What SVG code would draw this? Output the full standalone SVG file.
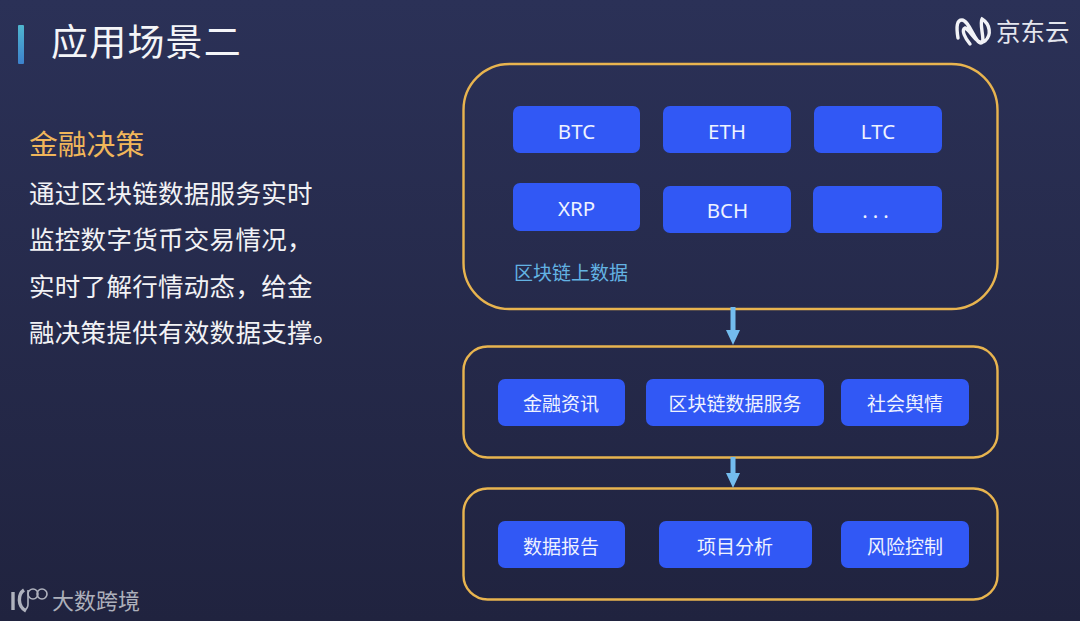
<svg xmlns="http://www.w3.org/2000/svg" width="1080" height="621" viewBox="0 0 1080 621">
<style>
text{font-family:"Noto Sans CJK SC","Liberation Sans",sans-serif}
.b{fill:#3158f5}
.t{fill:#eef2ff;font-size:20.5px;text-anchor:middle;font-family:"Noto Sans","Noto Sans CJK SC",sans-serif}
.c{fill:#eef2ff;font-size:19px;text-anchor:middle}
.p{fill:none;stroke:#e8b44f;stroke-width:2.4}
.d{fill:#f2f2f5;font-size:25.500px;letter-spacing:.3px}
.a{stroke:#73bcee;stroke-width:5;fill:none}
.h{fill:#73bcee}
</style>
<defs>
<linearGradient id="bg" x1="0" y1="0" x2="0" y2="1"><stop offset="0" stop-color="#2b3157"/><stop offset="1" stop-color="#20233f"/></linearGradient>
<linearGradient id="bar" x1="0" y1="0" x2="0" y2="1"><stop offset="0" stop-color="#4fb6cf"/><stop offset="1" stop-color="#3d82cc"/></linearGradient>
</defs>
<rect width="1080" height="621" fill="url(#bg)"/>
<rect x="18" y="25" width="6" height="39" rx="1" fill="url(#bar)"/>
<text x="51" y="56" font-size="37" fill="#f4f5f8" letter-spacing="1.200">应用场景二</text>
<g id="logo-jd">
<path d="M958 38 C956 26 957 20 962 20 C969 20 975 43 981 43 C986 43 979 24 982 19 C990 24 992 35 985 41 C977 47 970 29 965 28 C961 30 965 38 970 44" fill="none" stroke="#f1f2f6" stroke-width="3.4" stroke-linecap="round"/>
<text x="996" y="41" font-size="24.500" fill="#e4e6ee">京东云</text>
</g>
<g id="logo-100">
<path d="M13 592 V610" fill="none" stroke="#b0b3be" stroke-width="3.4"/>
<path d="M24 590 C18 594 17 606 26 611" fill="none" stroke="#b0b3be" stroke-width="3.4"/>
<path d="M28 590 V604 A6 6 0 0 1 24 610" fill="none" stroke="#b0b3be" stroke-width="1.6"/>
<circle cx="33" cy="594" r="5" fill="none" stroke="#b0b3be" stroke-width="1.6"/>
<circle cx="42" cy="594" r="5" fill="none" stroke="#b0b3be" stroke-width="1.6"/>
<text x="52" y="609" font-size="22" fill="#adb0bb">大数跨境</text>
</g>
<g id="text-block">
<text x="29" y="155" font-size="28.800" fill="#f0b65a">金融决策</text>
<text x="29" y="203" class="d">通过区块链数据服务实时</text>
<text x="29" y="249" class="d">监控数字货币交易情况，</text>
<text x="29" y="296" class="d">实时了解行情动态，给金</text>
<text x="29" y="342" class="d">融决策提供有效数据支撑。</text>
</g>
<g id="panel-chain"><rect class="p" x="463.500" y="64" width="534" height="245" rx="46"/><text x="514" y="280" font-size="19" fill="#63b3e3">区块链上数据</text></g>
<g id="panel-service"><rect class="p" x="463.500" y="346.500" width="534" height="111" rx="24"/></g>
<g id="panel-output"><rect class="p" x="463.500" y="488.500" width="534" height="111" rx="24"/></g>
<g id="connectors">
<path class="a" d="M733 307V332"/><path class="h" d="M726 330H740L733 345Z"/>
<path class="a" d="M733 457V475"/><path class="h" d="M726 473H740L733 488Z"/>
</g>
<g id="n-btc"><rect class="b" x="513" y="106" width="127" height="47" rx="7"/><text class="t" x="576.500" y="139">BTC</text></g>
<g id="n-eth"><rect class="b" x="663" y="106" width="128" height="47" rx="7"/><text class="t" x="727" y="139">ETH</text></g>
<g id="n-ltc"><rect class="b" x="814" y="106" width="128" height="47" rx="7"/><text class="t" x="878" y="139">LTC</text></g>
<g id="n-xrp"><rect class="b" x="513" y="183" width="127" height="48" rx="7"/><text class="t" x="576.500" y="216">XRP</text></g>
<g id="n-bch"><rect class="b" x="663" y="186" width="128" height="47" rx="7"/><text class="t" x="727.500" y="218">BCH</text></g>
<g id="n-more"><rect class="b" x="813" y="186" width="129" height="47" rx="7"/><text class="t" x="878" y="218" letter-spacing="5">...</text></g>
<g id="n-news"><rect class="b" x="498" y="379" width="127" height="47" rx="7"/><text class="c" x="561" y="411">金融资讯</text></g>
<g id="n-service"><rect class="b" x="646" y="379" width="178" height="47" rx="7"/><text class="c" x="735" y="411">区块链数据服务</text></g>
<g id="n-opinion"><rect class="b" x="841" y="379" width="128" height="47" rx="7"/><text class="c" x="905" y="411">社会舆情</text></g>
<g id="n-report"><rect class="b" x="498" y="521" width="127" height="47" rx="7"/><text class="c" x="561" y="554">数据报告</text></g>
<g id="n-analysis"><rect class="b" x="659" y="521" width="153" height="47" rx="7"/><text class="c" x="735" y="554">项目分析</text></g>
<g id="n-risk"><rect class="b" x="841" y="521" width="128" height="47" rx="7"/><text class="c" x="905" y="554">风险控制</text></g>
</svg>
